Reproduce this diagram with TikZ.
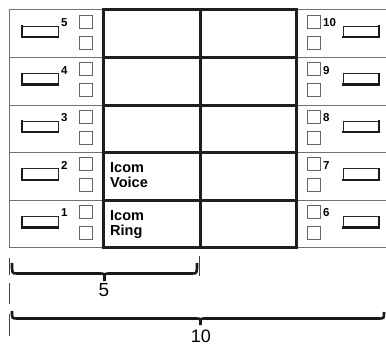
\documentclass[tikz,border=0pt]{standalone}
\usepackage{fontspec}
\setmainfont{Liberation Sans}
\begin{document}
\begin{tikzpicture}[x=1pt,y=-1pt,
  thinln/.style={draw=black!55, line width=1pt},
  thickln/.style={draw=black!88, line width=3pt},
  sqbox/.style={draw=black!60, line width=0.9pt},
  keybox/.style={draw=black!85, line width=0.8pt},
  keyshade/.style={draw=black!90, line width=2.4pt, line cap=rect},
  numlbl/.style={font=\fontsize{11.5}{12}\selectfont\bfseries, inner sep=0pt, anchor=west},
  celllbl/.style={font=\fontsize{14.5}{15}\selectfont\bfseries, inner sep=0pt, anchor=north west, align=left},
  bracelbl/.style={font=\fontsize{19}{19}\selectfont, inner sep=0pt},
  bracepath/.style={draw=black!90, line width=2.6pt},
  tickln/.style={draw=black!75, line width=1pt}]
\useasboundingbox (0,0) rectangle (386,347);
\foreach \k/\ln/\rn in {0/5/10,1/4/9,2/3/8,3/2/7,4/1/6}{
  \pgfmathsetmacro\t{10+47.6*\k}
  \pgfmathsetmacro\b{\t+47.6}
  % panels
  \draw[thinln] (9,\t) rectangle (103,\b);
  \draw[thinln] (296,\t) -- (386,\t);
  \draw[thinln] (296,\b) -- (386,\b);
  % left key
  \draw[keybox] (22,\t+16) rectangle (58,\t+27);
  \draw[keyshade] (22,\t+16.5) -- (22,\t+27) -- (57.5,\t+27);
  \node[numlbl] (nl\k) at (61,\t+12.5) {\ln};
  \draw[sqbox] (79,\t+5) rectangle ++(13,13);
  \draw[sqbox] (79,\t+26) rectangle ++(13,13);
  % right key
  \draw[sqbox] (307,\t+5) rectangle ++(13,13);
  \draw[sqbox] (307,\t+26) rectangle ++(13,13);
  \node[numlbl] (nr\k) at (323,\t+12.5) {\rn};
  \draw[keybox] (343,\t+16) rectangle (379,\t+27);
  \draw[keyshade] (343.5,\t+27) -- (379,\t+27) -- (379,\t+16.5);
  % thick cells
  \draw[thickln] (103,\t) rectangle (200,\b);
  \draw[thickln] (200,\t) rectangle (296,\b);
}
\node[celllbl] (voice) at (110,162.8) {Icom\\Voice};
\node[celllbl] (ring) at (110,210.4) {Icom\\Ring};
% brace 5
\draw[tickln] (9.5,258) -- (9.5,275);
\draw[tickln] (199,256) -- (199,276);
\draw[bracepath] (12,263) .. controls (12,273.5) .. (17,273.5) -- (100,273.5)
  .. controls (104.5,273.5) .. (104.5,281) .. controls (104.5,273.5) .. (109,273.5)
  -- (192,273.5) .. controls (197,273.5) .. (197,263);
\node[bracelbl] (five) at (104,290) {5};
% brace 10
\draw[tickln] (9.5,283) -- (9.5,304);
\draw[tickln] (9.5,314) -- (9.5,336);
\draw[bracepath] (12,311) .. controls (12,318.5) .. (17,318.5) -- (196,318.5)
  .. controls (200.5,318.5) .. (200.5,325) .. controls (200.5,318.5) .. (205,318.5)
  -- (379,318.5) .. controls (384,318.5) .. (384,312);
\node[bracelbl, font=\fontsize{18}{18}\selectfont] (ten) at (201,336) {10};
\end{tikzpicture}
\end{document}
